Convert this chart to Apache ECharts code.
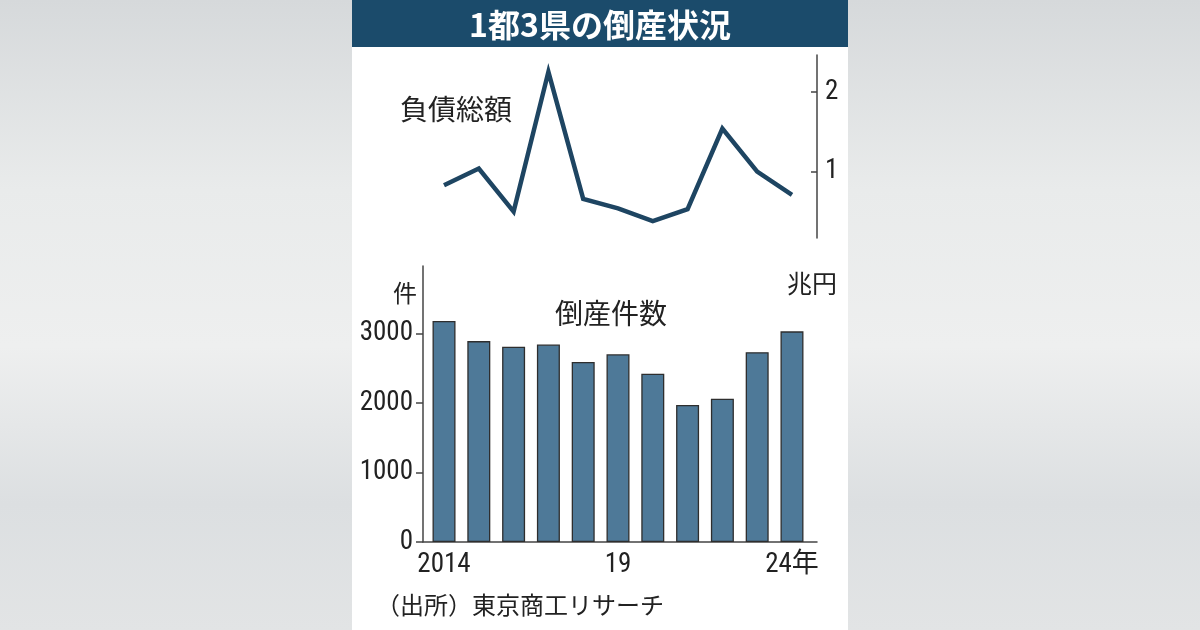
<!DOCTYPE html>
<html>
<head>
<meta charset="utf-8">
<script src="https://cdn.jsdelivr.net/npm/echarts@6/dist/echarts.min.js"></script>
<style>
  html, body { margin: 0; padding: 0; }
  body {
    width: 1200px; height: 630px; overflow: hidden;
    background: linear-gradient(180deg, #d6d9db 0%, #e9ebeb 30%, #eeefef 55%, #dcdfe1 80%, #e2e4e5 100%);
  }
  #main { width: 1200px; height: 630px; }
</style>
</head>
<body>
<div id="main"></div>
<script>
// 1都3県の倒産状況（東京商工リサーチ）
var years = [2014, 2015, 2016, 2017, 2018, 2019, 2020, 2021, 2022, 2023, 2024];
var counts = [3180, 2890, 2810, 2840, 2590, 2700, 2420, 1970, 2060, 2730, 3030];   // 件
var debts = [0.83, 1.04, 0.50, 2.25, 0.66, 0.54, 0.38, 0.53, 1.54, 1.00, 0.71];    // 兆円
var countTicks = [0, 1000, 2000, 3000];
var debtTicks = [1, 2];
var yearTicks = [2014, 2019, 2024];
var yearLabels = ['2014', '19', '24年'];

var numFont = "'Roboto Condensed', 'Noto Sans CJK JP', sans-serif";
var ink = '#222';
var axisColor = '#444';

var lineData = [];
var barData = [];
for (var i = 0; i < years.length; i++) {
    lineData.push([years[i], debts[i]]);
    barData.push([years[i], counts[i]]);
}

var myChart = echarts.init(document.getElementById('main'));
// 両グラフで同じ年の位置にそろえる
var xMin = 2013.396, xMax = 2024.719;

var option = {
    backgroundColor: 'transparent',
    animation: false,
    graphic: [
        { type: 'rect', z: -10, shape: { x: 352, y: 0, width: 496, height: 630 }, style: { fill: '#ffffff' } },
        { type: 'rect', z: -5, shape: { x: 352, y: 0, width: 496, height: 47 }, style: { fill: '#1b4b6b' } },
        { type: 'text', x: 600, y: 25, style: { text: '1都3県の倒産状況', fill: '#fff', font: "bold 32px 'Noto Sans CJK JP'", align: 'center', verticalAlign: 'middle' } },
        { type: 'text', x: 400, y: 109, style: { text: '負債総額', fill: ink, font: "28px 'Noto Sans CJK JP'", align: 'left', verticalAlign: 'middle' } },
        { type: 'text', x: 555, y: 313, style: { text: '倒産件数', fill: ink, font: "28px 'Noto Sans CJK JP'", align: 'left', verticalAlign: 'middle' } },
        { type: 'text', x: 417, y: 293, style: { text: '件', fill: ink, font: "24px 'Noto Sans CJK JP'", align: 'right', verticalAlign: 'middle' } },
        { type: 'text', x: 837, y: 283, style: { text: '兆円', fill: ink, font: "25px 'Noto Sans CJK JP'", align: 'right', verticalAlign: 'middle' } },
        { type: 'text', x: 376, y: 605, style: { text: '（出所）東京商工リサーチ', fill: ink, font: "24px 'Noto Sans CJK JP'", align: 'left', verticalAlign: 'middle' } }
    ],
    grid: [
        { left: 423, right: 383, top: 55, bottom: 392 },
        { left: 423, right: 383, top: 266, bottom: 88 }
    ],
    xAxis: [
        { type: 'value', gridIndex: 0, min: xMin, max: xMax, show: false },
        {
            type: 'value', gridIndex: 1, min: xMin, max: xMax,
            axisLine: { show: true, onZero: false, lineStyle: { color: axisColor, width: 1.5 } },
            axisTick: { show: false },
            splitLine: { show: false },
            axisLabel: {
                customValues: yearTicks, margin: 10, color: ink, fontSize: 27, fontFamily: numFont,
                formatter: function (v) { return yearLabels[yearTicks.indexOf(v)]; }
            }
        }
    ],
    yAxis: [
        {
            type: 'value', gridIndex: 0, position: 'right', min: 0.17, max: 2.46,
            axisLine: { show: true, lineStyle: { color: axisColor, width: 1.5 } },
            axisTick: { show: true, inside: true, length: 6, customValues: debtTicks, lineStyle: { color: axisColor, width: 1.5 } },
            splitLine: { show: false },
            axisLabel: { customValues: debtTicks, margin: 8, color: ink, fontSize: 27, fontFamily: numFont,
                formatter: function (v) { return String(v); } }
        },
        {
            type: 'value', gridIndex: 1, min: 0, max: 3970,
            axisLine: { show: true, lineStyle: { color: axisColor, width: 1.5 } },
            axisTick: { show: true, length: 7, customValues: countTicks, lineStyle: { color: axisColor, width: 1.5 } },
            splitLine: { show: false },
            axisLabel: { customValues: countTicks, margin: 10, color: ink, fontSize: 27, fontFamily: numFont,
                formatter: function (v) { return String(v); } }
        }
    ],
    series: [
        {
            name: '負債総額', type: 'line', xAxisIndex: 0, yAxisIndex: 0,
            data: lineData, showSymbol: false, symbol: 'none',
            lineStyle: { color: '#1e4562', width: 4.5, join: 'miter' }
        },
        {
            name: '倒産件数', type: 'bar', xAxisIndex: 1, yAxisIndex: 1,
            data: barData, barWidth: 23,
            itemStyle: { color: '#4e7998', borderColor: '#2e2e2e', borderWidth: 1.3 }
        }
    ]
};
myChart.setOption(option);
</script>
</body>
</html>
